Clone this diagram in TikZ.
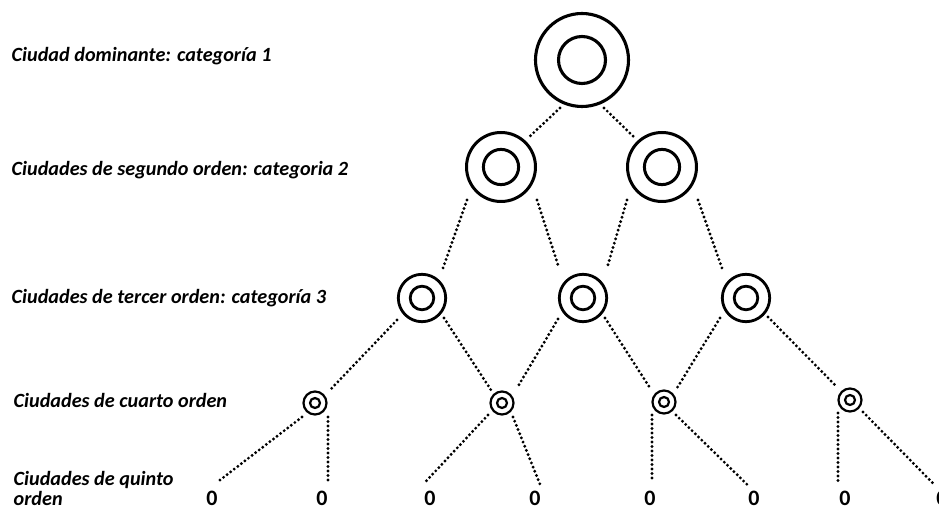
\documentclass[tikz,border=0pt]{standalone}
\usepackage{fontspec}
\setmainfont{Carlito}
\usetikzlibrary{calc}

\tikzset{
  % a city: outer ring (node border) plus an inner ring
  city/.style n args={3}{circle, draw, line width=#3, minimum size=#1,
    inner sep=0pt, outer sep=0pt,
    path picture={\draw[line width=#3] (path picture bounding box.center) circle[radius=#2];}},
  rank1/.style={city={93pt}{23.5pt}{3.1pt}},
  rank2/.style={city={69pt}{17.6pt}{3pt}},
  rank3/.style={city={47.4pt}{11.8pt}{2.8pt}},
  rank4/.style={city={23pt}{5pt}{2.2pt}},
  level/.style={anchor=base west, inner sep=0pt, font=\fontsize{20.2}{21}\selectfont\bfseries\itshape, align=left},
  zero/.style={anchor=base, inner sep=0pt, font=\fontsize{22}{22}\selectfont\bfseries},
  dotline/.style={line width=3.2pt, dash pattern=on 0pt off 4.5pt, line cap=round},
}

\begin{document}
\begin{tikzpicture}[x=1pt, y=1pt]
  \useasboundingbox (0,0) rectangle (939,-510);
  \fill[white] (0,0) rectangle (939,-510);

  % level captions
  \node[level] (l1) at (11.5,-62) {Ciudad dominante: categoría 1};
  \node[level] (l2) at (11.5,-176) {Ciudades de segundo orden: categoria 2};
  \node[level] (l3) at (11.5,-304) {Ciudades de tercer orden: categoría 3};
  \node[level] (l4) at (13.5,-407) {Ciudades de cuarto orden};
  \node[level] (l5a) at (13.5,-485) {Ciudades de quinto};
  \node[level] (l5b) at (13.5,-505.5) {orden};

  % cities
  \node[rank1] (t) at (582,-60) {};
  \node[rank2] (a) at (501,-167) {};
  \node[rank2] (b) at (662,-167) {};
  \node[rank3] (c) at (422,-298) {};
  \node[rank3] (d) at (583,-298) {};
  \node[rank3] (e) at (746,-298) {};
  \node[rank4] (f) at (315,-403) {};
  \node[rank4] (g) at (502,-403) {};
  \node[rank4] (h) at (664,-402) {};
  \node[rank4] (k) at (850,-400) {};

  % fifth-order places
  \node[zero] (z1) at (212,-505) {0};
  \node[zero] (z2) at (322,-505) {0};
  \node[zero] (z3) at (430,-505) {0};
  \node[zero] (z4) at (535,-505) {0};
  \node[zero] (z5) at (650,-505) {0};
  \node[zero] (z6) at (754,-505) {0};
  \node[zero] (z7) at (845,-505) {0};
  \node[zero] (z8) at (942,-505) {0};

  % dotted links
  \draw[dotline] ($(t)+(-22,-48)$) -- ($(a)+(27,29)$);
  \draw[dotline] ($(t)+(22,-48)$)  -- ($(b)+(-27,29)$);

  \draw[dotline] ($(a)+(-34,-33)$) -- ($(c)+(21,30)$);
  \draw[dotline] ($(a)+(36,-33)$)  -- ($(d)+(-24,30)$);
  \draw[dotline] ($(b)+(-35,-33)$) -- ($(d)+(24,30)$);
  \draw[dotline] ($(b)+(36,-33)$)  -- ($(e)+(-24,30)$);

  \draw[dotline] ($(c)+(-25,-22)$) -- ($(f)+(15,13)$);
  \draw[dotline] ($(c)+(22,-20)$)  -- ($(g)+(-11,13)$);
  \draw[dotline] ($(d)+(-25,-21)$) -- ($(g)+(15,15)$);
  \draw[dotline] ($(d)+(22,-20)$)  -- ($(h)+(-14,14)$);
  \draw[dotline] ($(e)+(-26,-20)$) -- ($(h)+(13,14)$);
  \draw[dotline] ($(e)+(22,-19)$)  -- ($(k)+(-15,15)$);

  \draw[dotline] ($(f)+(-13,-14)$) -- ($(z1)+(5,15.5)$);
  \draw[dotline] ($(f)+(13,-14)$)  -- ($(z2)+(6,15.5)$);
  \draw[dotline] ($(g)+(-14,-12)$) -- ($(z3)+(-5,15.5)$);
  \draw[dotline] ($(g)+(11,-14)$)  -- ($(z4)+(5,13.5)$);
  \draw[dotline] ($(h)+(-12,-13)$) -- ($(z5)+(2,15.5)$);
  \draw[dotline] ($(h)+(12,-13)$)  -- ($(z6)+(-7,13.5)$);
  \draw[dotline] ($(k)+(-12,-13)$) -- ($(z7)+(-7,16)$);
  \draw[dotline] ($(k)+(13,-12)$)  -- ($(z8)+(-8,13.5)$);
\end{tikzpicture}
\end{document}
